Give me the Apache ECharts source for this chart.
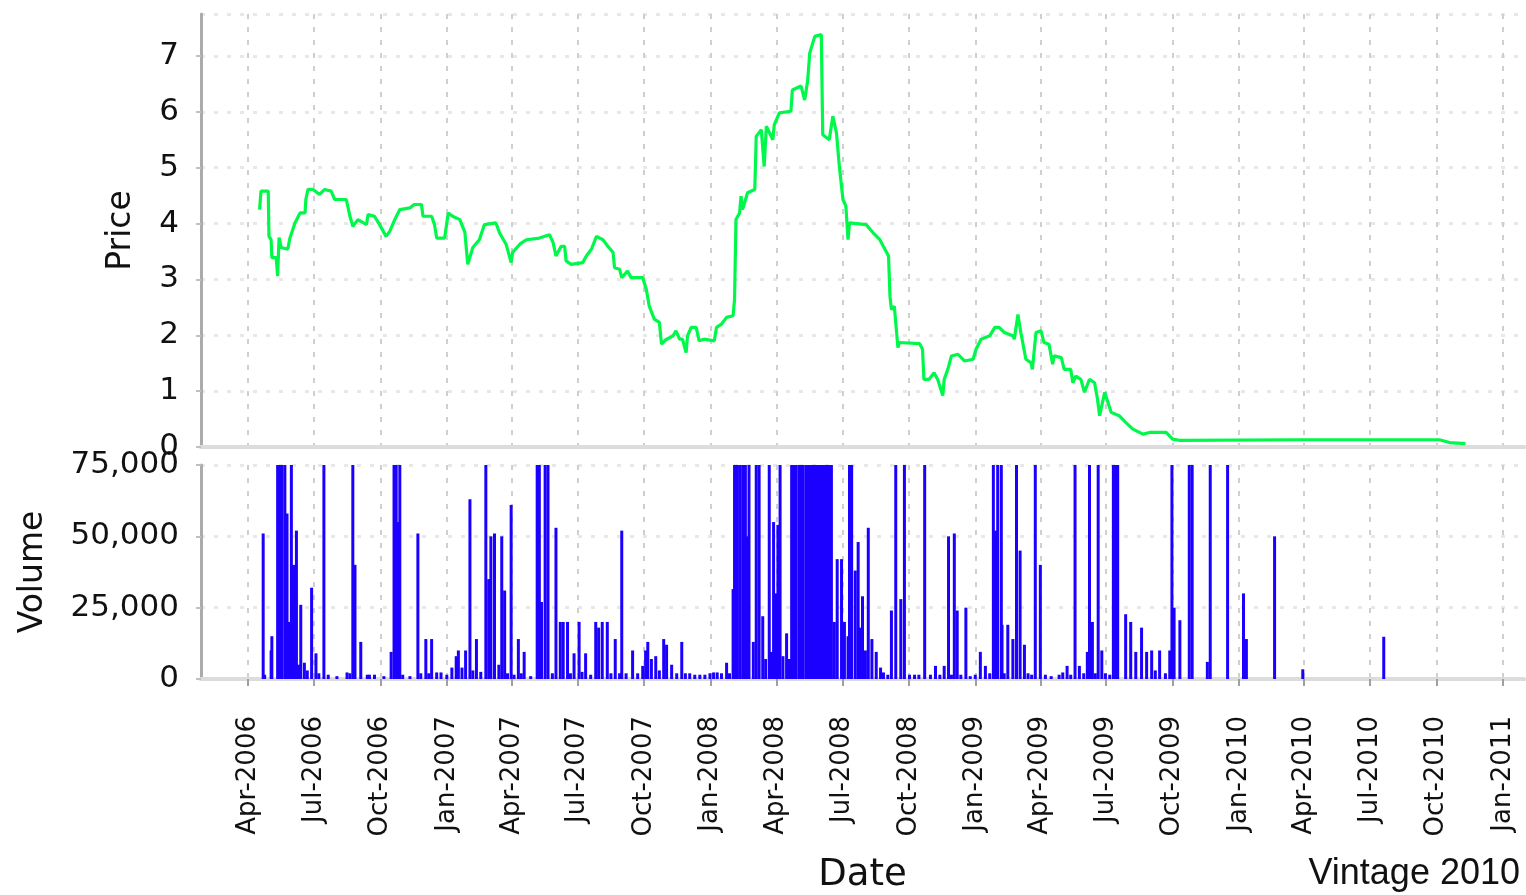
<!DOCTYPE html>
<html>
<head>
<meta charset="utf-8">
<script src="https://cdn.jsdelivr.net/npm/echarts@6/dist/echarts.min.js"></script>
<style>
  html, body { margin: 0; padding: 0; background: #fff; }
  #chart { width: 1526px; height: 895px; }
</style>
</head>
<body>
<div id="chart"></div>
<script>
  // price (daily close)
  const priceDates = [
    '2006-04-17','2006-04-19','2006-04-29','2006-04-30','2006-05-03','2006-05-04','2006-05-10','2006-05-12','2006-05-14','2006-05-17',
    '2006-05-26','2006-05-29','2006-06-05','2006-06-12','2006-06-19','2006-06-20','2006-06-23','2006-06-30','2006-07-09','2006-07-16',
    '2006-07-25','2006-07-30','2006-08-15','2006-08-20','2006-08-24','2006-08-31','2006-09-12','2006-09-14','2006-09-23','2006-09-30',
    '2006-10-09','2006-10-14','2006-10-21','2006-10-28','2006-11-11','2006-11-17','2006-11-27','2006-11-29','2006-12-11','2006-12-15',
    '2006-12-18','2006-12-29','2007-01-03','2007-01-09','2007-01-19','2007-01-26','2007-01-30','2007-02-06','2007-02-15','2007-02-22',
    '2007-03-10','2007-03-15','2007-03-24','2007-03-31','2007-04-02','2007-04-12','2007-04-21','2007-05-09','2007-05-23','2007-05-28',
    '2007-06-01','2007-06-08','2007-06-13','2007-06-15','2007-06-22','2007-07-08','2007-07-13','2007-07-20','2007-07-27','2007-08-05',
    '2007-08-12','2007-08-19','2007-08-21','2007-08-28','2007-08-31','2007-09-08','2007-09-13','2007-09-29','2007-10-04','2007-10-08',
    '2007-10-15','2007-10-22','2007-10-25','2007-10-31','2007-11-10','2007-11-14','2007-11-19','2007-11-23','2007-11-28','2007-11-30',
    '2007-12-05','2007-12-12','2007-12-16','2007-12-23','2008-01-06','2008-01-09','2008-01-16','2008-01-23','2008-02-01','2008-02-03',
    '2008-02-05','2008-02-10','2008-02-12','2008-02-14','2008-02-21','2008-03-02','2008-03-04','2008-03-11','2008-03-15','2008-03-18',
    '2008-03-27','2008-03-29','2008-04-05','2008-04-21','2008-04-23','2008-05-05','2008-05-10','2008-05-14','2008-05-17','2008-05-24',
    '2008-06-02','2008-06-04','2008-06-13','2008-06-18','2008-06-23','2008-06-27','2008-07-02','2008-07-06','2008-07-09','2008-07-11',
    '2008-08-03','2008-08-13','2008-08-22','2008-08-29','2008-09-03','2008-09-05','2008-09-07','2008-09-11','2008-09-16','2008-09-18',
    '2008-10-16','2008-10-20','2008-10-22','2008-10-29','2008-11-05','2008-11-10','2008-11-17','2008-11-19','2008-11-24','2008-11-29',
    '2008-12-08','2008-12-17','2008-12-29','2009-01-02','2009-01-09','2009-01-21','2009-01-28','2009-02-03','2009-02-10','2009-02-22',
    '2009-02-24','2009-03-01','2009-03-05','2009-03-12','2009-03-19','2009-03-21','2009-03-26','2009-04-02','2009-04-06','2009-04-13',
    '2009-04-18','2009-04-20','2009-04-30','2009-05-04','2009-05-13','2009-05-16','2009-05-20','2009-05-27','2009-06-01','2009-06-08',
    '2009-06-15','2009-06-19','2009-06-22','2009-06-29','2009-07-05','2009-07-08','2009-07-19','2009-07-28','2009-08-07','2009-08-21',
    '2009-08-30','2009-09-22','2009-10-01','2009-10-10','2010-03-25','2010-10-05','2010-10-19','2010-11-10'
  ];
  const priceValues = [
    4.25,4.58,4.58,3.77,3.71,3.39,3.39,3.06,3.75,3.57,
    3.54,3.74,4.01,4.19,4.19,4.43,4.61,4.61,4.52,4.61,
    4.58,4.43,4.43,4.13,3.95,4.07,3.98,4.16,4.13,3.98,
    3.77,3.86,4.07,4.25,4.28,4.34,4.34,4.13,4.13,3.98,
    3.74,3.74,4.19,4.13,4.07,3.84,3.27,3.57,3.71,3.98,
    4.01,3.83,3.63,3.30,3.48,3.63,3.71,3.74,3.80,3.66,
    3.42,3.59,3.59,3.33,3.27,3.30,3.42,3.54,3.77,3.71,
    3.59,3.48,3.21,3.18,3.03,3.15,3.03,3.03,2.82,2.52,
    2.29,2.23,1.84,1.92,1.99,2.08,1.93,1.93,1.69,1.99,
    2.14,2.14,1.90,1.93,1.90,2.14,2.20,2.32,2.35,2.64,
    4.07,4.19,4.49,4.25,4.55,4.61,5.56,5.68,5.02,5.74,
    5.50,5.77,5.98,6.01,6.39,6.46,6.21,6.54,7.05,7.35,
    7.38,5.59,5.50,5.92,5.62,5.02,4.43,4.31,3.71,4.01,
    3.98,3.83,3.71,3.54,3.42,2.70,2.46,2.52,1.78,1.87,
    1.85,1.75,1.21,1.21,1.33,1.21,0.92,1.21,1.39,1.63,
    1.66,1.54,1.57,1.75,1.93,1.99,2.14,2.14,2.05,1.99,
    1.93,2.37,2.05,1.57,1.51,1.39,2.05,2.08,1.87,1.84,
    1.48,1.63,1.60,1.39,1.39,1.15,1.27,1.21,0.98,1.21,
    1.15,0.86,0.56,0.98,0.74,0.62,0.56,0.44,0.32,0.23,
    0.26,0.26,0.14,0.12,0.13,0.13,0.08,0.06
  ];

  // volume (bars above 75,000 run off the top of the panel)
  const volumeDates = [
    '2006-04-22','2006-04-24','2006-05-03','2006-05-04','2006-05-12','2006-05-15','2006-05-18','2006-05-22','2006-05-25','2006-05-28',
    '2006-05-31','2006-06-03','2006-06-07','2006-06-10','2006-06-13','2006-06-18','2006-06-22','2006-06-28','2006-07-04','2006-07-08',
    '2006-07-15','2006-07-21','2006-08-02','2006-08-16','2006-08-20','2006-08-24','2006-08-27','2006-09-04','2006-09-13','2006-09-16',
    '2006-09-23','2006-10-06','2006-10-16','2006-10-20','2006-10-23','2006-10-26','2006-10-28','2006-11-01','2006-11-11','2006-11-22',
    '2006-11-26','2006-12-03','2006-12-07','2006-12-11','2006-12-18','2006-12-24','2007-01-01','2007-01-08','2007-01-14','2007-01-17',
    '2007-01-22','2007-01-27','2007-02-02','2007-02-06','2007-02-11','2007-02-17','2007-02-24','2007-02-28','2007-03-03','2007-03-08',
    '2007-03-14','2007-03-18','2007-03-22','2007-03-26','2007-03-31','2007-04-04','2007-04-10','2007-04-14','2007-04-18','2007-04-27',
    '2007-05-06','2007-05-09','2007-05-12','2007-05-17','2007-05-21','2007-05-27','2007-06-01','2007-06-07','2007-06-11','2007-06-17',
    '2007-06-21','2007-06-26','2007-07-03','2007-07-07','2007-07-12','2007-07-19','2007-07-26','2007-07-30','2007-08-04','2007-08-11',
    '2007-08-16','2007-08-22','2007-08-28','2007-08-31','2007-09-06','2007-09-15','2007-09-22','2007-09-29','2007-10-03','2007-10-06',
    '2007-10-11','2007-10-17','2007-10-22','2007-10-28','2007-11-01','2007-11-08','2007-11-15','2007-11-22','2007-11-27','2007-12-03',
    '2007-12-10','2007-12-17','2007-12-24','2007-12-31','2008-01-05','2008-01-10','2008-01-16','2008-01-23','2008-01-27','2008-02-01',
    '2008-02-03','2008-02-07','2008-02-11','2008-02-15','2008-02-18','2008-02-21','2008-02-23','2008-02-29','2008-03-04','2008-03-08',
    '2008-03-13','2008-03-17','2008-03-22','2008-03-25','2008-03-28','2008-03-31','2008-04-03','2008-04-06','2008-04-10','2008-04-15',
    '2008-04-19','2008-04-22','2008-04-25','2008-04-28','2008-05-02','2008-05-05','2008-05-08','2008-05-12','2008-05-14','2008-05-17',
    '2008-05-20','2008-05-23','2008-05-25','2008-05-28','2008-05-31','2008-06-03','2008-06-06','2008-06-08','2008-06-11','2008-06-14',
    '2008-06-16','2008-06-20','2008-06-24','2008-06-30','2008-07-04','2008-07-09','2008-07-11','2008-07-14','2008-07-19','2008-07-23',
    '2008-07-26','2008-07-29','2008-08-02','2008-08-06','2008-08-11','2008-08-17','2008-08-23','2008-08-27','2008-09-02','2008-09-07',
    '2008-09-13','2008-09-20','2008-09-25','2008-10-02','2008-10-09','2008-10-15','2008-10-23','2008-10-31','2008-11-07','2008-11-13',
    '2008-11-19','2008-11-25','2008-11-29','2008-12-03','2008-12-07','2008-12-12','2008-12-19','2008-12-25','2009-01-01','2009-01-08',
    '2009-01-15','2009-01-21','2009-01-26','2009-01-29','2009-02-01','2009-02-06','2009-02-07','2009-02-10','2009-02-15','2009-02-22',
    '2009-02-27','2009-03-04','2009-03-10','2009-03-15','2009-03-20','2009-03-25','2009-04-01','2009-04-08','2009-04-16','2009-04-27',
    '2009-05-02','2009-05-08','2009-05-13','2009-05-19','2009-05-25','2009-05-31','2009-06-05','2009-06-08','2009-06-12','2009-06-16',
    '2009-06-20','2009-06-25','2009-06-30','2009-07-06','2009-07-11','2009-07-14','2009-07-17','2009-07-28','2009-08-04','2009-08-11',
    '2009-08-19','2009-08-26','2009-09-02','2009-09-07','2009-09-13','2009-09-21','2009-09-27','2009-09-30','2009-10-03','2009-10-11',
    '2009-10-24','2009-10-28','2009-11-18','2009-11-22','2009-12-16','2010-01-07','2010-01-11','2010-02-19','2010-03-30','2010-07-20'
  ];
  const volumeValues = [
    51000,1500,10000,15000,100000,100000,100000,100000,58000,20000,
    100000,40000,52000,5000,26000,5700,3000,32000,9000,2000,
    100000,1500,1000,2300,2000,100000,40000,13000,1500,1500,
    1500,1000,9500,100000,100000,55000,100000,1500,1000,51000,
    2000,14000,2000,14000,2300,2300,1500,4000,8000,10000,
    4000,10000,63000,3000,14000,2500,100000,35000,50000,51000,
    5000,50000,31000,2000,61000,1500,14000,2000,9500,1000,
    100000,100000,27000,100000,100000,2000,53000,20000,20000,20000,
    2000,9000,20000,2500,9000,1500,20000,18000,20000,20000,
    2000,14000,2000,52000,2000,10000,2000,4600,10000,13000,
    7000,8000,3000,14000,12000,5000,2000,13000,2000,2000,
    1500,1500,1500,2000,2300,2300,2000,5700,2000,31500,
    100000,100000,100000,100000,100000,50000,100000,13000,100000,100000,
    22000,7000,100000,9500,55000,30000,54000,100000,8000,16000,
    7000,100000,100000,100000,100000,100000,100000,100000,100000,100000,
    100000,100000,100000,100000,100000,100000,100000,100000,100000,100000,
    100000,20000,42000,42000,20000,15000,100000,100000,38000,48000,
    18000,29000,10000,53000,14000,9500,4000,2300,1500,24000,
    100000,28000,100000,1500,1500,1500,100000,1500,4600,1500,
    4600,50000,1500,51000,24000,1500,25000,1000,1500,9500,
    4600,2000,100000,52000,100000,100000,19000,2000,19000,14000,
    100000,45000,12000,2000,1500,100000,40000,1500,1000,1500,
    2300,4600,1500,100000,4600,2000,9500,100000,20000,2000,
    100000,10000,2000,1500,100000,100000,100000,22700,20000,9500,
    18000,9500,10000,3000,10000,2000,10000,100000,25000,20600,
    100000,100000,6000,100000,100000,30000,14000,50000,3400,14800
  ];

  // quarterly ticks on the date axis
  const tickDates = [
    '2006-04-01','2006-07-01','2006-10-01','2007-01-01','2007-04-01','2007-07-01','2007-10-01',
    '2008-01-01','2008-04-01','2008-07-01','2008-10-01','2009-01-01','2009-04-01','2009-07-01',
    '2009-10-01','2010-01-01','2010-04-01','2010-07-01','2010-10-01','2011-01-01'
  ];
  const monthNames = ['Jan','Feb','Mar','Apr','May','Jun','Jul','Aug','Sep','Oct','Nov','Dec'];

  const dateMin = '2006-01-26';
  const dateMax = '2011-01-30';

  const ts = (d) => +echarts.time.parse(d);
  const tickValues = tickDates.map(ts);
  const xMin = ts(dateMin);
  const xMax = ts(dateMax);
  const priceData = priceDates.map((d, i) => [ts(d), priceValues[i]]);
  const volumeData = volumeDates.map((d, i) => [ts(d), volumeValues[i]]);

  const font = 'DejaVu Sans';
  const vGrid = { show: true, lineStyle: { color: '#cfcfcf', width: 2, type: [5, 8] } };
  const hGrid = { show: true, lineStyle: { color: '#e8e8e8', width: 3, type: [4, 9] } };

  const chart = echarts.init(document.getElementById('chart'));
  chart.setOption({
    animation: false,
    backgroundColor: '#ffffff',
    grid: [
      { left: 201, right: 2, top: 14, height: 433 },
      { left: 201, right: 2, top: 465, height: 218 },
    ],
    xAxis: [
      {
        type: 'value', gridIndex: 0, min: xMin, max: xMax,
        axisLine: { show: true, onZero: false, lineStyle: { color: '#dcdcdc', width: 4 } },
        axisTick: { show: false, customValues: tickValues },
        axisLabel: { show: false, customValues: tickValues },
        splitLine: vGrid,
      },
      {
        type: 'value', gridIndex: 1, min: xMin, max: xMax,
        axisLine: { show: true, onZero: false, lineStyle: { color: '#b0b0b0', width: 3 } },
        axisTick: { show: true, length: 7, customValues: tickValues, lineStyle: { color: '#a0a0a0', width: 2 } },
        axisLabel: {
          customValues: tickValues,
          rotate: 90, margin: 37, fontFamily: font, fontSize: 26, color: '#111',
          formatter: (v) => {
            const d = new Date(v);
            return monthNames[d.getMonth()] + '-' + d.getFullYear();
          },
        },
        splitLine: vGrid,
        name: 'Date', nameLocation: 'middle', nameGap: 178,
        nameTextStyle: { fontFamily: font, fontSize: 37, color: '#111' },
      },
      {
        type: 'value', gridIndex: 0, position: 'top', min: xMin, max: xMax,
        axisLine: { show: true, lineStyle: { color: '#dcdcdc', width: 4 } },
        axisTick: { show: false }, axisLabel: { show: false }, splitLine: { show: false },
      },
      {
        type: 'value', gridIndex: 1, position: 'top', min: xMin, max: xMax,
        axisLine: { show: true, lineStyle: { color: '#dcdcdc', width: 4 } },
        axisTick: { show: false }, axisLabel: { show: false }, splitLine: { show: false },
      },
    ],
    yAxis: [
      {
        type: 'value', gridIndex: 0, min: 0, max: 7.75, interval: 1,
        axisLine: { show: true, lineStyle: { color: '#ababab', width: 3 } },
        axisTick: { show: true, length: 5, lineStyle: { color: '#c0c0c0', width: 2 } },
        axisLabel: { showMaxLabel: false, margin: 22, fontFamily: font, fontSize: 31, color: '#111' },
        splitLine: hGrid,
        name: 'Price', nameLocation: 'middle', nameRotate: 90, nameGap: 63,
        nameTextStyle: { fontFamily: font, fontSize: 33, color: '#111' },
      },
      {
        type: 'value', gridIndex: 1, min: 0, max: 75000, interval: 25000,
        axisLine: { show: true, lineStyle: { color: '#ababab', width: 3 } },
        axisTick: { show: true, length: 5, lineStyle: { color: '#c0c0c0', width: 2 } },
        axisLabel: {
          margin: 22, fontFamily: font, fontSize: 31, color: '#111',
          formatter: (v) => v.toLocaleString('en-US'),
        },
        splitLine: hGrid,
        name: 'Volume', nameLocation: 'middle', nameRotate: 90, nameGap: 151,
        nameTextStyle: { fontFamily: font, fontSize: 33, color: '#111' },
      },
    ],
    series: [
      {
        name: 'Price', type: 'line', xAxisIndex: 0, yAxisIndex: 0,
        data: priceData, showSymbol: false,
        lineStyle: { color: '#00f84a', width: 3.2 },
      },
      {
        name: 'Volume', type: 'bar', xAxisIndex: 1, yAxisIndex: 1,
        data: volumeData, barWidth: 3, clip: true,
        itemStyle: { color: '#1c00ff' },
      },
    ],
    graphic: [
      {
        type: 'text', right: 6, top: 856,
        style: { text: 'Vintage 2010', font: '36px "Liberation Sans"', fill: '#111' },
      },
    ],
  });
</script>
</body>
</html>
